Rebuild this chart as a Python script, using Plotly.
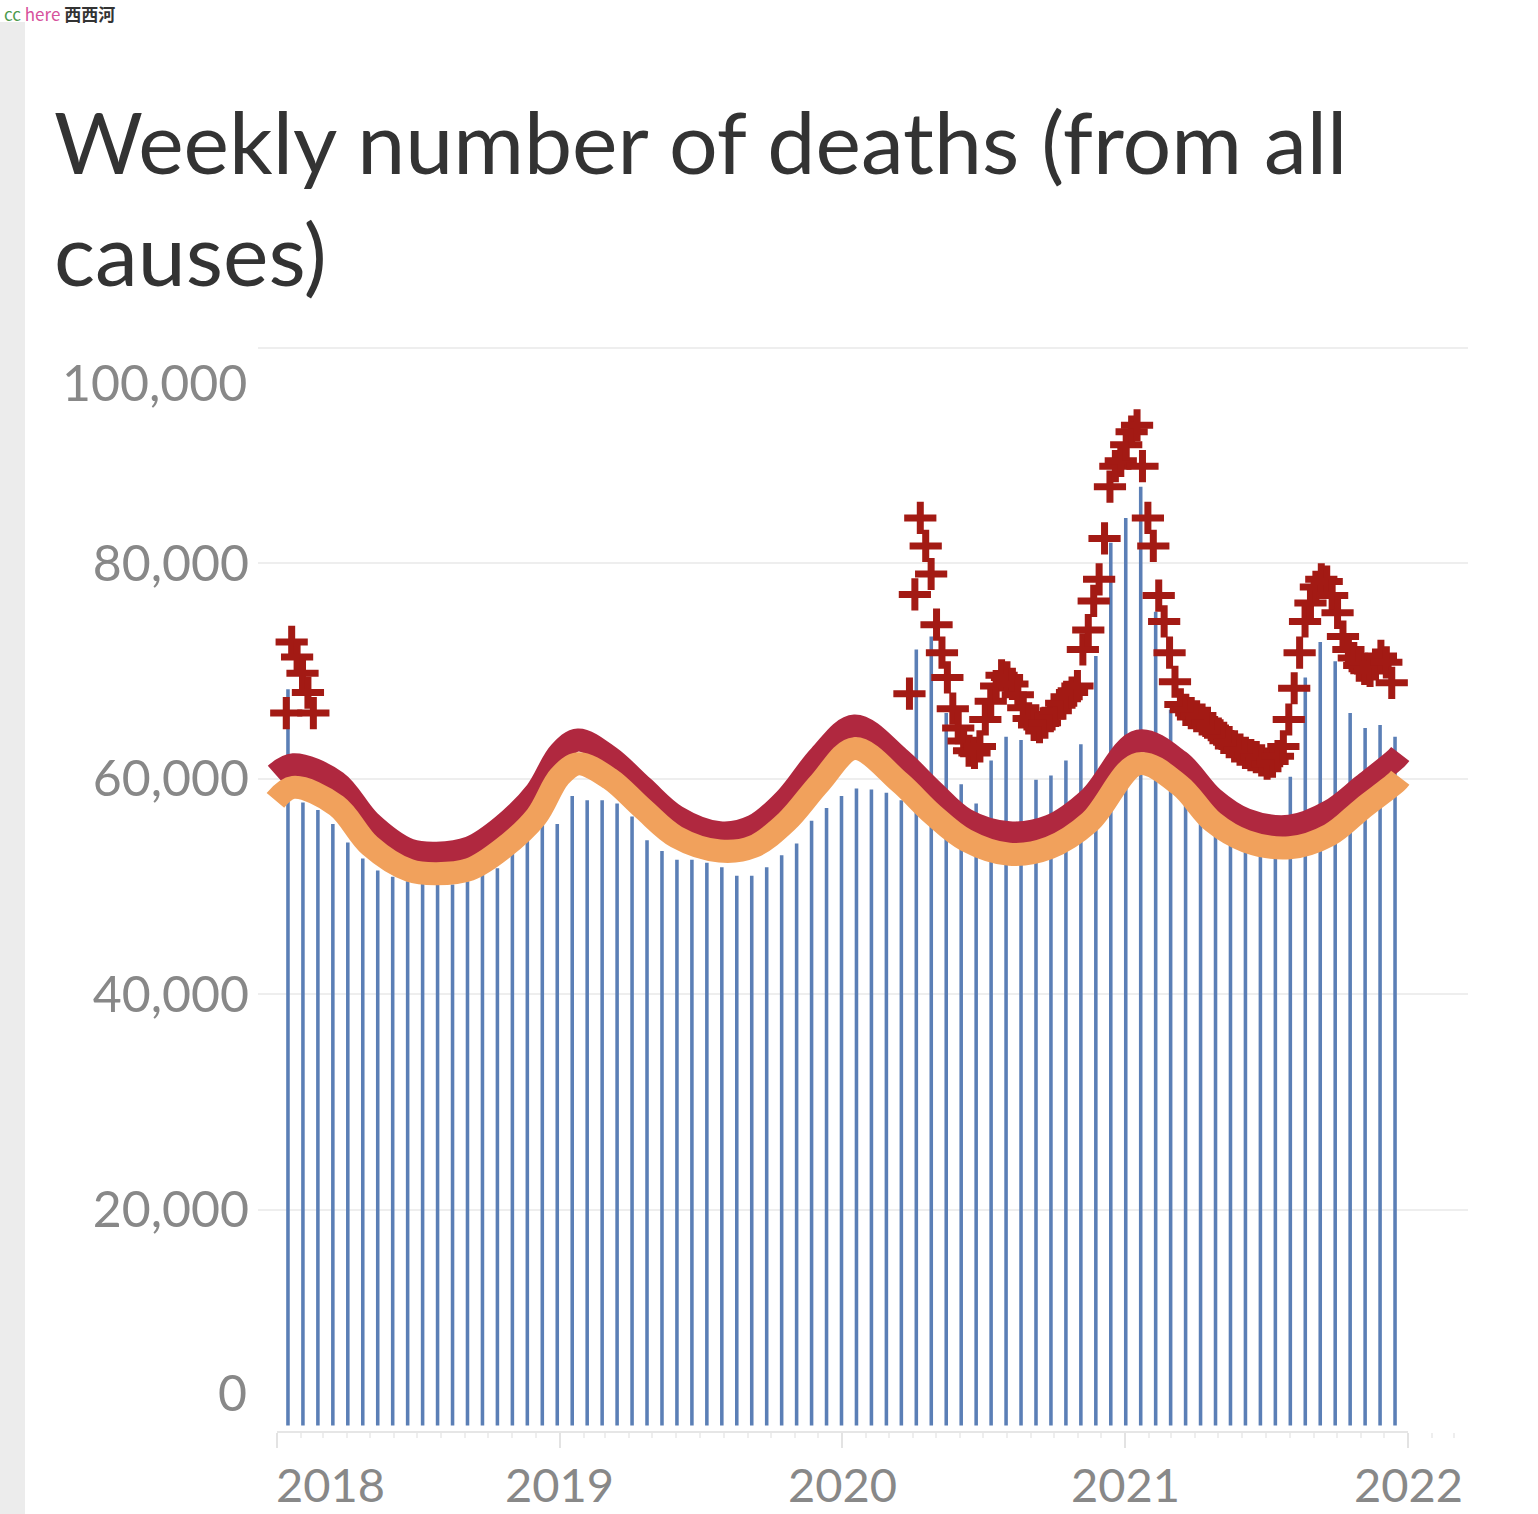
import pandas as pd
import plotly.graph_objects as go

# ---------------- data ----------------
# visible weekly-death bars (evenly spaced in the picture)
bar_start = "2018-01-15 05:00"
bar_step_days = 19.325
bar_values = [68300, 57800, 57100, 55800, 54100, 52600, 51500, 50900, 50500, 50300,
              50200, 50200, 50500, 51200, 51700, 53100, 54300, 55800, 55800, 58400,
              58000, 58000, 57700, 56500, 54300, 53300, 52500, 52500, 52200, 51800,
              51000, 51000, 51800, 52900, 54000, 56100, 57300, 58400, 59100, 59000,
              58700, 58000, 72000, 73200, 66100, 59500, 57700, 61700, 63900, 63600,
              59900, 60300, 61700, 63200, 71400, 81900, 84200, 87100, 75500, 66400,
              58400, 56700, 55100, 54000, 53400, 53300, 52800, 60200, 69400, 72700,
              70900, 66100, 64700, 65000, 63900]

# threshold (upper) and expected (lower) curves
line_dates = ["2017-12-30", "2018-01-22", "2018-03-19", "2018-05-01", "2018-06-21",
              "2018-07-26", "2018-09-07", "2018-10-19", "2018-12-02", "2019-01-01",
              "2019-01-25", "2019-03-07", "2019-04-19", "2019-06-01", "2019-07-27",
              "2019-09-08", "2019-10-21", "2019-12-03", "2020-01-17", "2020-03-15",
              "2020-04-27", "2020-06-09", "2020-08-04", "2020-09-25", "2020-11-16",
              "2021-01-18", "2021-03-12", "2021-04-24", "2021-06-06", "2021-08-01",
              "2021-09-22", "2021-11-04", "2021-12-17", "2021-12-22"]
threshold_values = [60400, 61300, 59700, 56000, 53400, 53100, 53600, 55600, 58800, 62400,
                    63600, 62000, 59200, 56500, 55000, 55600, 58200, 62100, 64900, 61900,
                    58900, 56200, 55000, 55600, 58200, 63500, 61600, 58200, 56200, 55600,
                    57000, 59400, 61900, 62300]
expected_values = [58000, 59200, 57500, 53800, 51500, 51200, 51600, 53500, 56500, 60200,
                   61400, 60000, 57200, 54600, 53300, 53700, 56000, 59600, 62800, 59700,
                   56700, 54300, 53000, 53600, 56000, 61400, 59400, 56000, 54200, 53600,
                   54800, 57300, 59700, 60100]

# weeks above threshold (+ markers)
excess_2018_dates = ["2018-01-13", "2018-01-20", "2018-01-27", "2018-02-03", "2018-02-10", "2018-02-17"]
excess_2018_values = [66100, 72700, 71300, 69800, 68000, 66100]
excess_2020_start = "2020-03-28"
excess_2020_values = [67900, 77100, 84200, 81600, 79000, 74300, 71700, 69400, 66500, 64700,
                      63500, 62600, 62400, 63000, 65500, 67200, 68600, 69600, 69400, 68800,
                      67800, 66600, 65600, 65000, 64800, 65200, 65800, 66300, 67000, 67600,
                      68000, 68600, 72000, 73800, 76500, 78500, 82300, 87100, 89000, 89500,
                      91000, 92200, 92800, 89000, 84200, 81600, 77000, 74600, 71700, 69000,
                      66900, 66400, 66100, 65800, 65500, 65200, 64700, 64200, 63800, 63400,
                      63000, 62700, 62400, 62200, 62000, 61700, 61400, 61600, 62100, 63000,
                      65500, 68400, 71700, 74600, 76300, 77800, 78500, 78300, 77000, 75400,
                      73200, 72000, 71200, 70500, 70200, 70000, 70600, 71400, 70800, 68900]

year_ticks = ["2018-01-01", "2019-01-01", "2020-01-01", "2021-01-01", "2022-01-01"]
year_labels = ["2018", "2019", "2020", "2021", "2022"]
y_tickvals = [20000, 40000, 60000, 80000, 100000]
y_ticktext = ["20,000", "40,000", "60,000", "80,000", ""]

# ---------------- derived positions ----------------
bar_dates = [pd.Timestamp(bar_start) + pd.Timedelta(days=bar_step_days * i) for i in range(len(bar_values))]
excess_2020_dates = pd.date_range(excess_2020_start, periods=len(excess_2020_values), freq="7D")

BLUE = "#5b7fb6"
CRIMSON = "#b0283f"
ORANGE = "#f1a15c"
RED = "#a31a14"
GRAY = "#888888"

fig = go.Figure()
fig.add_trace(go.Bar(x=bar_dates, y=bar_values, width=4.6 * 86400000,
                     marker=dict(color=BLUE, line=dict(width=0)), hoverinfo="skip"))
fig.add_trace(go.Scatter(x=line_dates, y=threshold_values, mode="lines",
                         line=dict(color=CRIMSON, width=23, shape="spline", smoothing=1.0)))
fig.add_trace(go.Scatter(x=line_dates, y=expected_values, mode="lines",
                         line=dict(color=ORANGE, width=23, shape="spline", smoothing=1.0)))
marker_style = dict(symbol="cross-thin", size=23, color=RED, line=dict(width=7, color=RED))
fig.add_trace(go.Scatter(x=excess_2018_dates, y=excess_2018_values, mode="markers", marker=marker_style))
fig.add_trace(go.Scatter(x=excess_2020_dates, y=excess_2020_values, mode="markers", marker=marker_style))

W, H = 1538, 1514
L, R, T, B = 258, 70, 346, 82
pw, ph = W - L - R, H - T - B


def px_x(px):
    return (px - L) / pw


def px_y(py):
    return (H - B - py) / ph


annotations = []
annotations.append(dict(text="Weekly number of deaths (from all<br>causes)", xref="paper", yref="paper",
                        x=px_x(52), y=px_y(87), xanchor="left", yanchor="top", align="left",
                        showarrow=False, font=dict(family="Lato", size=86, color="#333333")))
for i, (d, lab) in enumerate(zip(year_ticks, year_labels)):
    annotations.append(dict(text=lab, xref="x", yref="paper", x=d, y=0, xanchor="center", yanchor="middle",
                            xshift=54 if i == 0 else 0, yshift=-52, showarrow=False,
                            font=dict(family="Lato", size=47, color=GRAY)))
annotations.append(dict(text="100,000", xref="paper", yref="y", x=px_x(249), y=100000, xanchor="right",
                        yanchor="middle", yshift=-34, showarrow=False, font=dict(family="Lato", size=50, color=GRAY)))
annotations.append(dict(text="0", xref="paper", yref="y", x=px_x(249), y=0, xanchor="right",
                        yanchor="middle", yshift=34, showarrow=False, font=dict(family="Lato", size=50, color=GRAY)))
annotations.append(dict(text="<span style='color:#4c9a4c'>cc</span> <span style='color:#d6529c'>here</span> <b>西西河</b>",
                        xref="paper", yref="paper", x=px_x(2), y=px_y(13), xanchor="left", yanchor="middle",
                        showarrow=False, font=dict(family="Noto Sans CJK SC", size=17, color="#333333")))

shapes = [
    dict(type="rect", xref="paper", yref="paper", x0=px_x(0), x1=px_x(25), y0=px_y(H), y1=px_y(22),
         fillcolor="#ececec", line=dict(width=0), layer="below"),
    dict(type="line", xref="x", yref="paper", x0=year_ticks[0], x1=year_ticks[-1], y0=0, y1=0,
         line=dict(color="#e6e6e6", width=2)),
]

fig.update_layout(
    width=W, height=H, margin=dict(l=L, r=R, t=T, b=B),
    paper_bgcolor="white", plot_bgcolor="white", showlegend=False,
    font=dict(family="Lato"),
    annotations=annotations, shapes=shapes,
    xaxis=dict(type="date", range=["2017-12-07 12:00", "2022-03-19 12:00"],
               tickvals=year_ticks, showticklabels=False, ticks="outside", ticklen=15,
               tickcolor="#e3e3e3", tickwidth=2, showgrid=False, zeroline=False, showline=False,
               minor=dict(ticks="outside", ticklen=5, dtick="M1", tickcolor="#eeeeee", showgrid=False)),
    yaxis=dict(range=[-600, 100150], tickvals=y_tickvals, ticktext=y_ticktext,
               showgrid=True, gridcolor="#eeeeee", gridwidth=2, zeroline=False, showline=False,
               ticks="", ticklabelstandoff=8, tickfont=dict(family="Lato", size=50, color=GRAY)),
)

fig.write_html("out.html", config={"displayModeBar": False},
               post_script="document.body.style.margin='0';document.body.style.overflow='hidden';")
